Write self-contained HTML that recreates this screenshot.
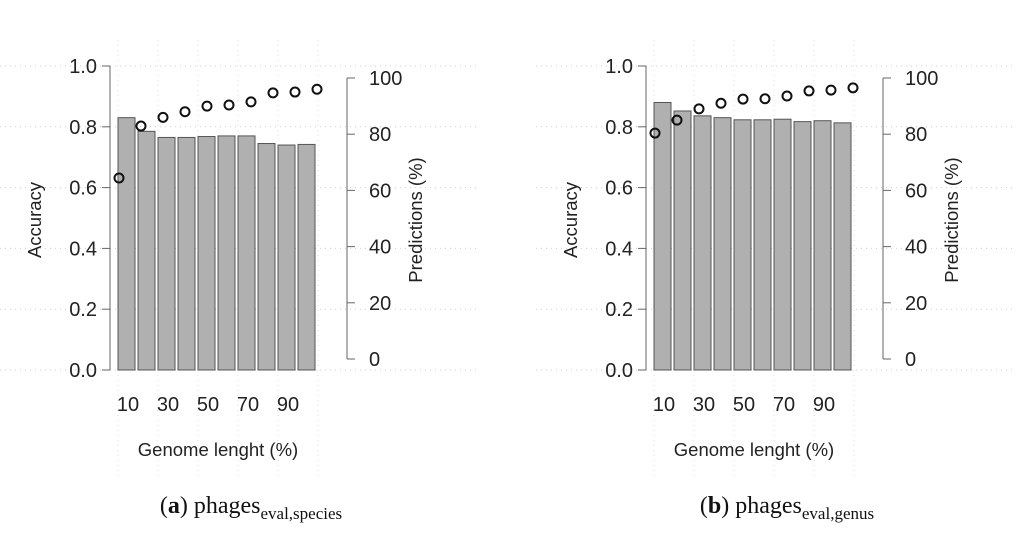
<!DOCTYPE html>
<html><head><meta charset="utf-8"><style>
body{margin:0;background:#fff;width:1024px;height:540px;overflow:hidden}
svg{display:block}
text{font-family:"Liberation Sans",sans-serif;fill:#222}
.cap{font-family:"Liberation Serif",serif;fill:#111}
</style></head><body>
<svg id="s" width="1024" height="540"></svg>
<script>
const categories=[10,20,30,40,50,60,70,80,90,100];
const accSpecies=[0.83,0.785,0.765,0.765,0.768,0.77,0.77,0.745,0.74,0.742];
const predSpecies=[64.4,82.9,86,88,90,90.4,91.5,94.7,95,96];
const accGenus=[0.88,0.852,0.836,0.83,0.823,0.823,0.825,0.817,0.82,0.813];
const predGenus=[80.4,85,89,91,92.5,92.6,93.6,95.4,95.7,96.5];
const accTicks=["0.0","0.2","0.4","0.6","0.8","1.0"];
const predTicks=["0","20","40","60","80","100"];
const xTicks=["10","30","50","70","90"];
const NS="http://www.w3.org/2000/svg";
const svg=document.getElementById('s');
function mk(tag,attrs,parent,txt){const e=document.createElementNS(NS,tag);for(const k in attrs)e.setAttribute(k,attrs[k]);if(txt!==undefined)e.textContent=txt;(parent||svg).appendChild(e);return e;}
function panel(ox,acc,pred,key,capLetter,capSub){
  const g=mk('g',{transform:`translate(${ox},0)`});
  
  
  const ay=v=>370-304*v;
  const py=v=>359-2.81*v;
  const barX=i=>118+20*i;
  const ptX=i=>119+22*i;
  for(let i=0;i<accTicks.length;i++){const l=mk('line',{x1:0,x2:480,y1:ay(+accTicks[i]),y2:ay(+accTicks[i]),stroke:'#ccc','stroke-dasharray':'1 4'},g);
    
    }
  for(let i=0;i<6;i++){const x=118+40*i;const l=mk('line',{x1:x,x2:x,y1:40,y2:480,stroke:'#ddd','stroke-dasharray':'1 4'},g);
    
    }
  acc.forEach((v,i)=>{const r=mk('rect',{x:barX(i),y:ay(v),width:17,height:ay(0)-ay(v),fill:'#b0b0b0',stroke:'#555','stroke-width':1},g);
    
    });
  pred.forEach((v,i)=>{const c=mk('circle',{cx:ptX(i),cy:py(v),r:4.5,fill:'none',stroke:'#111','stroke-width':2},g);
    
    });
  const la=mk('g',{},g);
  mk('line',{x1:110,x2:110,y1:ay(0),y2:ay(1),stroke:'#666'},la);
  accTicks.forEach(t=>{const y=ay(+t);mk('line',{x1:102,x2:110,y1:y,y2:y,stroke:'#666'},la);mk('text',{x:97,y:y+7,'text-anchor':'end','font-size':20},la,t);});
  const ra=mk('g',{},g);
  mk('line',{x1:347,x2:347,y1:py(0),y2:py(100),stroke:'#666'},ra);
  predTicks.forEach(t=>{const y=py(+t);mk('line',{x1:347,x2:355,y1:y,y2:y,stroke:'#666'},ra);mk('text',{x:369,y:y+7,'font-size':20},ra,t);});
  xTicks.forEach((t,i)=>{const tx=mk('text',{x:barX(0)+10+40*i,y:411,'text-anchor':'middle','font-size':20},g,t);
    
    });
  const xt=mk('text',{x:218,y:456,'text-anchor':'middle','font-size':18.5},g,'Genome lenght (%)');
  
  const yt=mk('text',{transform:'translate(41,220) rotate(-90)','text-anchor':'middle','font-size':18.5},g,'Accuracy');
  
  const y2=mk('text',{transform:'translate(422,220) rotate(-90)','text-anchor':'middle','font-size':18.5},g,'Predictions (%)');
  
  const cap=mk('text',{x:251,y:513,'text-anchor':'middle','font-size':24,class:'cap'},g);
  
  mk('tspan',{},cap,'(');mk('tspan',{'font-weight':'bold'},cap,capLetter);mk('tspan',{},cap,') phages');
  mk('tspan',{'font-size':17,dy:6},cap,capSub);
}
panel(0,accSpecies,predSpecies,'species','a','eval,species');
panel(536,accGenus,predGenus,'genus','b','eval,genus');
</script>
</body></html>
